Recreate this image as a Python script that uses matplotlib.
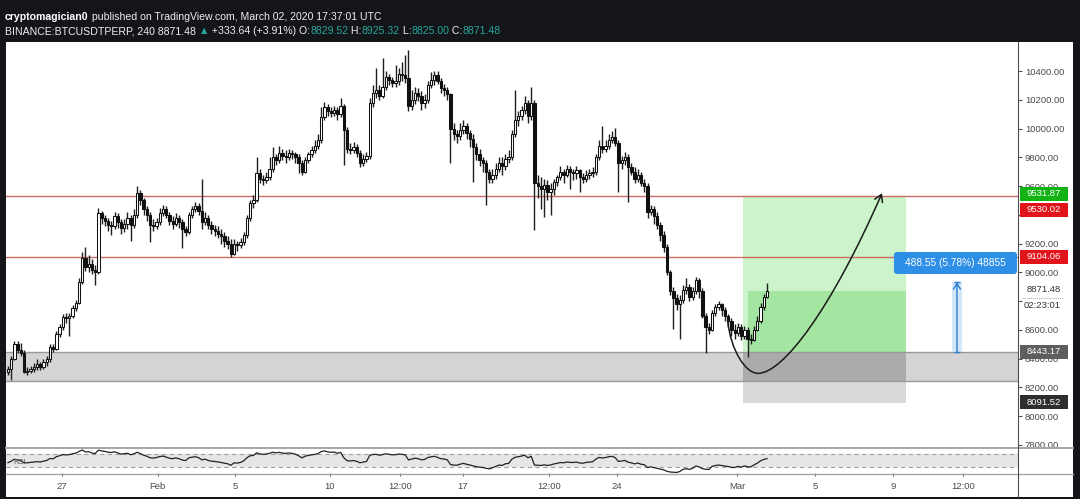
import numpy as np
import pandas as pd
import matplotlib
matplotlib.use('Agg')
import matplotlib.pyplot as plt
from matplotlib.patches import Rectangle, FancyBboxPatch, FancyArrowPatch
from matplotlib.path import Path
from matplotlib.lines import Line2D
from matplotlib.transforms import blended_transform_factory

plt.rcParams['font.family'] = ['Liberation Sans', 'DejaVu Sans']

# BINANCE:BTCUSDTPERP 4h candles, 23 Jan 16:00 -> 02 Mar 16:00 (UTC)
# open of every bar = close of the bar before
first_open = 8310
closes = [
    8330, 8400, 8500, 8460, 8440, 8310, 8315, 8330, 8340, 8360, 8345, 8375,
    8400, 8480, 8470, 8570, 8620, 8690, 8680, 8700, 8750, 8790, 8930, 9100,
    9040, 9060, 9020, 9000, 9410, 9380, 9360, 9330, 9320, 9390, 9350, 9310,
    9340, 9380, 9330, 9400, 9550, 9500, 9440, 9400, 9330, 9320, 9350, 9410,
    9440, 9400, 9360, 9340, 9380, 9350, 9300, 9280, 9400, 9440, 9460, 9430,
    9350, 9380, 9330, 9300, 9290, 9270, 9250, 9220, 9200, 9130, 9200, 9190,
    9210, 9260, 9380, 9480, 9500, 9690, 9650, 9640, 9660, 9720, 9800, 9780,
    9830, 9810, 9800, 9830, 9820, 9800, 9760, 9700, 9780, 9820, 9850, 9880,
    9920, 10080, 10150, 10120, 10110, 10130, 10100, 10160, 9990, 9860, 9850, 9870,
    9830, 9760, 9790, 9810, 10180, 10250, 10270, 10230, 10290, 10360, 10340, 10320,
    10330, 10380, 10370, 10350, 10160, 10200, 10250, 10230, 10180, 10200, 10300, 10340,
    10370, 10330, 10280, 10270, 10240, 10000, 9960, 9950, 9990, 10020, 9970, 9930,
    9870, 9820, 9780, 9760, 9700, 9650, 9680, 9720, 9760, 9740, 9790, 9800,
    9960, 10060, 10090, 10130, 10180, 10090, 10180, 9620, 9600, 9580, 9610, 9560,
    9580, 9630, 9660, 9700, 9680, 9720, 9700, 9690, 9710, 9660, 9650, 9680,
    9690, 9700, 9800, 9880, 9860, 9880, 9920, 9940, 9900, 9760, 9780, 9800,
    9730, 9700, 9650, 9680, 9620, 9600, 9420, 9440, 9390, 9330, 9260, 9180,
    9000, 8870, 8820, 8780, 8810, 8880, 8900, 8830, 8870, 8950, 8870, 8700,
    8620, 8600, 8720, 8760, 8780, 8740, 8700, 8660, 8600, 8580, 8620, 8560,
    8600, 8540, 8530, 8600, 8660, 8760, 8829.52, 8871.48,
]
highs = [
    8350, 8420, 8525, 8520, 8510, 8460, 8340, 8350, 8370, 8400, 8380, 8400,
    8420, 8500, 8500, 8590, 8640, 8710, 8720, 8720, 8770, 8810, 8960, 9140,
    9180, 9120, 9090, 9050, 9450, 9430, 9400, 9380, 9360, 9420, 9410, 9370,
    9370, 9420, 9400, 9440, 9600, 9570, 9520, 9460, 9420, 9370, 9380, 9450,
    9470, 9460, 9420, 9390, 9410, 9400, 9370, 9320, 9420, 9460, 9490, 9480,
    9650, 9420, 9400, 9360, 9330, 9320, 9300, 9280, 9250, 9230, 9230, 9220,
    9240, 9280, 9400, 9500, 9540, 9800, 9720, 9680, 9700, 9800, 9870, 9820,
    9880, 9860, 9850, 9860, 9850, 9840, 9820, 9780, 9800, 9840, 9880, 9920,
    9960, 10150, 10187, 10170, 10150, 10160, 10150, 10210, 10170, 10010, 9900, 9910,
    9890, 9850, 9820, 9840, 10210, 10300, 10419, 10300, 10488, 10400, 10380, 10360,
    10442, 10420, 10465, 10511, 10546, 10270, 10290, 10280, 10260, 10240, 10330, 10390,
    10400, 10400, 10350, 10310, 10290, 10250, 10040, 9990, 10040, 10060, 10040, 9990,
    9960, 9900, 9860, 9800, 9780, 9720, 9720, 9760, 9800, 9800, 9820, 9850,
    9990, 10268, 10120, 10160, 10230, 10200, 10291, 10200, 9680, 9660, 9650, 9640,
    9620, 9650, 9680, 9740, 9720, 9750, 9740, 9720, 9740, 9720, 9690, 9710,
    9720, 9730, 9820, 9920, 10017, 9920, 9960, 9980, 10001, 9920, 9810, 9840,
    9820, 9760, 9730, 9720, 9700, 9650, 9620, 9470, 9460, 9420, 9350, 9290,
    9200, 9020, 8900, 8850, 8840, 8910, 8960, 8920, 8900, 8969, 8960, 8890,
    8720, 8650, 8740, 8780, 8800, 8790, 8760, 8710, 8680, 8640, 8650, 8640,
    8630, 8620, 8570, 8630, 8700, 8790, 8850, 8925.32,
]
lows = [
    8290, 8250, 8390, 8440, 8420, 8300, 8290, 8300, 8310, 8320, 8320, 8330,
    8350, 8380, 8450, 8460, 8550, 8600, 8650, 8560, 8680, 8730, 8780, 8920,
    9010, 9000, 8990, 8910, 8990, 9340, 9320, 9290, 9260, 9300, 9310, 9270,
    9280, 9300, 9220, 9310, 9380, 9470, 9400, 9360, 9210, 9290, 9300, 9330,
    9390, 9380, 9330, 9300, 9320, 9310, 9170, 9250, 9270, 9380, 9420, 9400,
    9300, 9330, 9300, 9270, 9250, 9240, 9200, 9180, 9160, 9108, 9120, 9150,
    9170, 9190, 9240, 9360, 9450, 9490, 9620, 9610, 9620, 9640, 9700, 9750,
    9760, 9780, 9760, 9780, 9790, 9760, 9690, 9676, 9690, 9760, 9800, 9830,
    9860, 9900, 10060, 10090, 10080, 10090, 10060, 10080, 9746, 9830, 9820, 9830,
    9800, 9730, 9740, 9770, 9790, 10150, 10210, 10200, 10210, 10270, 10300, 10290,
    10290, 10300, 10330, 10320, 10120, 10130, 10170, 10190, 10130, 10140, 10180, 10280,
    10300, 10310, 10250, 10230, 10200, 9760, 9920, 9900, 9920, 9960, 9930, 9870,
    9630, 9780, 9740, 9700, 9468, 9620, 9620, 9650, 9700, 9680, 9710, 9760,
    9780, 9940, 10020, 10060, 10100, 10040, 10060, 9294, 9520, 9440, 9386, 9500,
    9400, 9540, 9600, 9640, 9620, 9660, 9580, 9640, 9650, 9560, 9620, 9630,
    9650, 9660, 9680, 9780, 9830, 9840, 9860, 9900, 9880, 9560, 9720, 9750,
    9491, 9680, 9620, 9630, 9600, 9560, 9380, 9400, 9340, 9300, 9220, 9140,
    8980, 8840, 8609, 8740, 8540, 8790, 8850, 8800, 8810, 8850, 8820, 8680,
    8440, 8570, 8590, 8700, 8740, 8700, 8660, 8620, 8560, 8540, 8560, 8530,
    8540, 8412, 8500, 8520, 8590, 8650, 8740, 8825,
]

# drawings on the chart
res_upper = 9530.02
res_lower = 9104.06
zone_top = 8443.17
zone_bottom = 8245
entry = 8443.17
target = 9531.87
stop = 8091.52
last = 8871.48
pos_start, pos_fill_start, pos_end = 227.5, 229.1, 278.0   # bar index
measure = 488.55
measure_x = 293.8
tag_x0, tag_x1, tag_lo, tag_hi = 274.3, 312.4, 8989, 9142
curve_pts = [(222.8, 8667), (223.8, 8450), (228.5, 8298), (232.2, 8298),
             (240, 8298), (255, 8750), (270.6, 9551)]

# RSI seed (average gain / loss before the first visible bar)
rsi_seed_gain, rsi_seed_loss = 25, 33

price_ticks = np.arange(7800, 10401, 200)
hidden_ticks = [8800, 9400]   # covered by the price tags in the screenshot
time_ticks = [16.7, 46.4, 70.3, 99.7, 121.4, 140.9, 167.5, 188.5, 225.7, 249.8, 274.0, 295.7]
time_labels = ['27', 'Feb', '5', '10', '12:00', '17', '12:00', '24', 'Mar', '5', '9', '12:00']

# right axis labels: (y position, text, box colour)
axis_tags = [(9548, '9531.87', '#12b312'), (9434, '9530.02', '#e2141b'),
             (9110, '9104.06', '#e2141b'), (8447, '8443.17', '#5e5e5e'),
             (8096, '8091.52', '#2e2e2e')]

W, H = 1080, 499


def fx(px):
    return px / W


def fy(py):
    return 1 - py / H


c = np.array(closes, dtype=float)
o = np.r_[first_open, c[:-1]]
hi = np.array(highs, dtype=float)
lo = np.array(lows, dtype=float)
x = np.arange(len(c))
up = c >= o
dn = ~up

delta = pd.Series(c).diff()
gain = delta.clip(lower=0)
loss = -delta.clip(upper=0)
gain.iloc[0] = rsi_seed_gain
loss.iloc[0] = rsi_seed_loss
ag = gain.ewm(alpha=1 / 14, adjust=False).mean()
al = loss.ewm(alpha=1 / 14, adjust=False).mean()
rsi = 100 - 100 / (1 + ag / al)

fig = plt.figure(figsize=(W / 100, H / 100), dpi=100, facecolor='#131519')
fig.add_artist(Rectangle((fx(6), fy(497)), fx(1073) - fx(6), fy(42) - fy(497),
                         transform=fig.transFigure, facecolor='white', edgecolor='none', zorder=-1))

ax = fig.add_axes([fx(6), fy(447), fx(1018) - fx(6), fy(42) - fy(447)])
ax2 = fig.add_axes([fx(6), fy(473), fx(1018) - fx(6), fy(448) - fy(473)], sharex=ax)

# zone + position tool
ax.axhspan(zone_bottom, zone_top, color='#d4d4d4', lw=0, zorder=1)
ax.add_patch(Rectangle((pos_start, stop), pos_end - pos_start, entry - stop,
                       facecolor='#d9d9d9', edgecolor='none', zorder=1.1))
ax.add_patch(Rectangle((pos_start, zone_bottom), pos_end - pos_start, entry - zone_bottom,
                       facecolor='#ababab', edgecolor='none', zorder=1.2))
ax.add_patch(Rectangle((pos_start, entry), pos_end - pos_start, target - entry,
                       facecolor='#cdf3ca', edgecolor='none', zorder=1.2))
ax.add_patch(Rectangle((pos_fill_start, entry), pos_end - pos_fill_start, last - entry,
                       facecolor='#a4e5a1', edgecolor='none', zorder=1.3))
ax.axhline(zone_top, color='#9a9a9a', lw=1, zorder=1.5)
ax.axhline(zone_bottom, color='#9a9a9a', lw=1, zorder=1.5)

ax.axhline(res_upper, color='#cc6b62', lw=1, zorder=2)
ax.axhline(res_lower, color='#cc6b62', lw=1, zorder=2)

# candles
ax.vlines(x, lo, hi, color='#1e1e1e', lw=1.0, zorder=3)
ax.bar(x[up], c[up] - o[up], bottom=o[up], width=0.72, color='white',
       edgecolor='#111111', lw=0.75, zorder=4)
ax.bar(x[dn], o[dn] - c[dn], bottom=c[dn], width=0.72, color='#111111',
       edgecolor='#111111', lw=0.75, zorder=4)

# hand drawn curve
codes = [Path.MOVETO] + [Path.CURVE4] * 6
ax.add_patch(FancyArrowPatch(path=Path(curve_pts, codes), transform=ax.transData,
                             arrowstyle='->,head_length=0.5,head_width=0.3', mutation_scale=10,
                             lw=1.1, color='#1a1a1a', zorder=6))

# measure tool
ax.add_patch(Rectangle((measure_x - 1.4, entry), 3.0, measure, facecolor='#d2e7f8',
                       edgecolor='none', zorder=2))
ax.annotate('', xy=(measure_x, entry + measure), xytext=(measure_x, entry),
            arrowprops=dict(arrowstyle='->,head_length=0.4,head_width=0.25', color='#2a7fd0',
                            lw=1, shrinkA=0, shrinkB=0), zorder=5)
ax.hlines([entry, entry + measure], measure_x - 1, measure_x + 1, color='#2a7fd0', lw=1, zorder=5)
aspect = (1 / 0.1438) / (1 / 3.23)
ax.add_patch(FancyBboxPatch((tag_x0, tag_lo), tag_x1 - tag_x0, tag_hi - tag_lo,
                            boxstyle='round,pad=0,rounding_size=0.9', mutation_aspect=aspect,
                            facecolor='#2e8fe6', edgecolor='none', zorder=6))
ax.text((tag_x0 + tag_x1) / 2, (tag_lo + tag_hi) / 2, '488.55 (5.78%) 48855',
        ha='center', va='center', color='white', fontsize=7.3, zorder=7)

ax.set_xlim(-0.6, 312.7)
ax.set_ylim(7786, 10602)
for s in ax.spines.values():
    s.set_visible(False)
ax.yaxis.tick_right()
ax.set_yticks(price_ticks)
ax.set_yticklabels(['' if v in hidden_ticks else f'{v:.2f}' for v in price_ticks])
ax.tick_params(axis='y', length=3, width=0.8, color='#555555', labelsize=6.8,
               labelcolor='#4a4a4a', pad=2)
ax.tick_params(axis='x', bottom=False, labelbottom=False)

# RSI panel
ax2.axhspan(30, 70, color='#e6e6e6', lw=0, zorder=0)
ax2.axhline(70, color='#a0a0a0', lw=0.8, ls=(0, (4, 3)), zorder=1)
ax2.axhline(30, color='#a0a0a0', lw=0.8, ls=(0, (4, 3)), zorder=1)
ax2.plot(x, rsi, color='#222222', lw=0.9, zorder=2)
ax2.set_ylim(11.5, 88.5)
ax2.set_yticks([])
for s in ax2.spines.values():
    s.set_visible(False)
ax2.set_xticks(time_ticks)
ax2.set_xticklabels(time_labels)
ax2.tick_params(axis='x', length=2.5, width=0.8, color='#555555', labelsize=6.8,
                labelcolor='#4a4a4a', pad=4)
fig.text(fx(13), fy(462), 'RSI', fontsize=5.5, color='#555555', va='center')


def fline(x0, y0, x1, y1, color, lw, ls='-'):
    fig.add_artist(Line2D([fx(x0), fx(x1)], [fy(y0), fy(y1)], transform=fig.transFigure,
                          color=color, lw=lw, ls=ls, zorder=2))


fline(6, 447.5, 1073, 447.5, '#a6a6a6', 1.4)
fline(6, 473.5, 1073, 473.5, '#a6a6a6', 1.0)
fline(1018, 42, 1018, 497, '#4d4d4d', 0.8)

# right axis tags
axis_tf = blended_transform_factory(fig.transFigure, ax.transData)
half = 7 / 0.1438
for yv, txt, col in axis_tags:
    fig.add_artist(Rectangle((fx(1020), yv - half), fx(1068) - fx(1020), 2 * half,
                             transform=axis_tf, facecolor=col, edgecolor='none', zorder=3))
    fig.text(fx(1044), yv, txt, transform=axis_tf, ha='center', va='center',
             color='white', fontsize=6.8, zorder=4)
fig.text(fx(1043.5), 8878, '8871.48', transform=axis_tf, ha='center', va='center',
         color='#333333', fontsize=6.8, zorder=4)
fig.text(fx(1042.5), 8773, '02:23:01', transform=axis_tf, ha='center', va='center',
         color='#333333', fontsize=6.8, zorder=4)
fline(1022, 297.5, 1063, 297.5, '#888888', 0.6, ls=(0, (1, 1.5)))

# header
renderer = fig.canvas.get_renderer()


def run(parts, x_px, y_px, size=7.6):
    xx = x_px
    for s, col, wt in parts:
        fig.text(fx(xx), fy(y_px), s, color=col, fontsize=size, fontweight=wt, va='baseline')
        probe = fig.text(0, 0, s + '|', fontsize=size, fontweight=wt)
        bar = fig.text(0, 0, '|', fontsize=size, fontweight=wt)
        xx += probe.get_window_extent(renderer).width - bar.get_window_extent(renderer).width
        probe.remove()
        bar.remove()


white = '#eeeeee'
green = '#26a69a'
run([('cryptomagician0', 'white', 'bold'),
     (' published on TradingView.com, March 02, 2020 17:37:01 UTC', white, 'normal')], 5, 19.5)
run([('BINANCE:BTCUSDTPERP, 240 8871.48 ', white, 'normal'), ('▲', green, 'normal'),
     (' +333.64 (+3.91%) O:', white, 'normal'), ('8829.52', green, 'normal'),
     (' H:', white, 'normal'), ('8925.32', green, 'normal'),
     (' L:', white, 'normal'), ('8825.00', green, 'normal'),
     (' C:', white, 'normal'), ('8871.48', green, 'normal')], 5, 34.5)

fig.savefig('out.png', dpi=100, facecolor=fig.get_facecolor())
